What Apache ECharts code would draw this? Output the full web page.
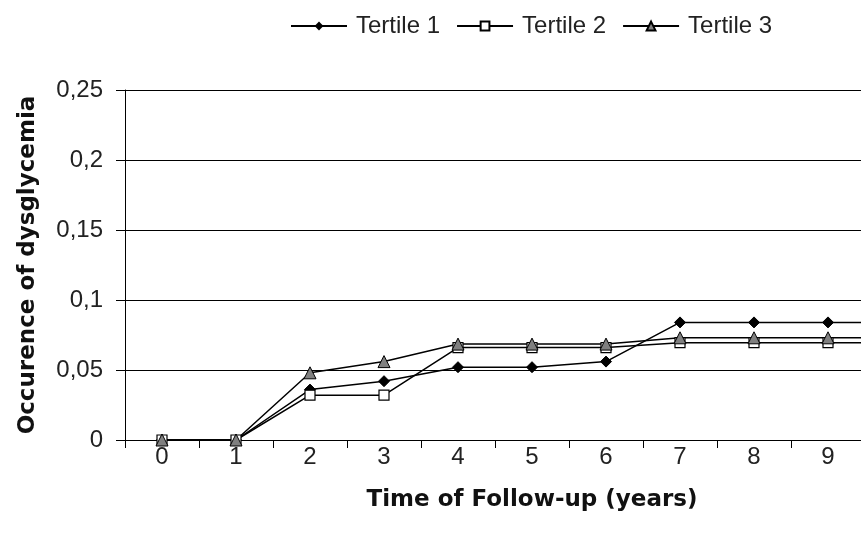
<!DOCTYPE html>
<html>
<head>
<meta charset="utf-8">
<script src="https://cdn.jsdelivr.net/npm/echarts@6/dist/echarts.min.js"></script>
<style>html,body{margin:0;padding:0;background:#fff;overflow:hidden;width:861px;height:545px}#c{width:940px;height:545px}</style>
</head>
<body>
<div id="c"></div>
<script>
// Categories: follow-up years (year 10 lies past the right edge of the picture)
var years = ['0','1','2','3','4','5','6','7','8','9','10'];
var tertile1 = [0, 0, 0.036, 0.042, 0.052, 0.052, 0.056, 0.084, 0.084, 0.084, 0.084];
var tertile2 = [0, 0, 0.032, 0.032, 0.066, 0.066, 0.066, 0.0695, 0.0695, 0.0695, 0.0695];
var tertile3 = [0, 0, 0.048, 0.056, 0.0685, 0.0685, 0.0685, 0.073, 0.073, 0.073, 0.073];
var seriesNames = ['Tertile 1', 'Tertile 2', 'Tertile 3'];

var chart = echarts.init(document.getElementById('c'));
var font = 'Liberation Sans, Arial, sans-serif';
chart.setOption({
  backgroundColor: '#fff',
  animation: false,
  legend: {
    left: 285, top: 9,
    itemWidth: 56, itemHeight: 11, itemGap: 16,
    textStyle: {fontFamily: font, fontSize: 24, color: '#222', padding: [0,0,0,4]},
    data: seriesNames
  },
  grid: {left: 125, top: 90, bottom: 105, right: 1, containLabel: false},
  xAxis: {
    type: 'category',
    data: years,
    boundaryGap: true,
    name: 'Time of Follow-up (years)',
    nameLocation: 'middle',
    nameGap: 49,
    nameTextStyle: {fontFamily: 'DejaVu Sans, sans-serif', fontWeight: 'bold', fontSize: 23, color: '#111'},
    axisLine: {show: true, lineStyle: {color: '#000', width: 1}},
    axisTick: {show: true, length: 8, interval: 0, lineStyle: {color: '#000'}},
    axisLabel: {fontFamily: font, fontSize: 24, color: '#222', margin: 5, interval: 0},
    splitLine: {show: false}
  },
  yAxis: {
    type: 'value',
    min: 0, max: 0.25, interval: 0.05,
    name: 'Occurence of dysglycemia',
    nameLocation: 'middle',
    nameGap: 85,
    nameRotate: 90,
    nameTextStyle: {fontFamily: 'DejaVu Sans, sans-serif', fontWeight: 'bold', fontSize: 23, color: '#111'},
    axisLine: {show: true, lineStyle: {color: '#000', width: 1}},
    axisTick: {show: true, length: 9, lineStyle: {color: '#000'}},
    axisLabel: {fontFamily: font, fontSize: 24, color: '#222', margin: 22,
      formatter: function (v) { return String(Math.round(v * 100) / 100).replace('.', ','); }},
    splitLine: {show: true, lineStyle: {color: '#000', width: 1}}
  },
  series: [
    {name: seriesNames[0], type: 'line', data: tertile1, symbol: 'diamond', symbolSize: 11,
     lineStyle: {color: '#000', width: 1.5}, itemStyle: {color: '#000', borderColor: '#000'}},
    {name: seriesNames[1], type: 'line', data: tertile2, symbol: 'rect', symbolSize: 10,
     lineStyle: {color: '#000', width: 1.5}, itemStyle: {color: '#fff', borderColor: '#000', borderWidth: 1.2}},
    {name: seriesNames[2], type: 'line', data: tertile3, symbol: 'triangle', symbolSize: 12,
     lineStyle: {color: '#000', width: 1.5}, itemStyle: {color: '#808080', borderColor: '#000', borderWidth: 1}}
  ]
});
</script>
</body>
</html>
